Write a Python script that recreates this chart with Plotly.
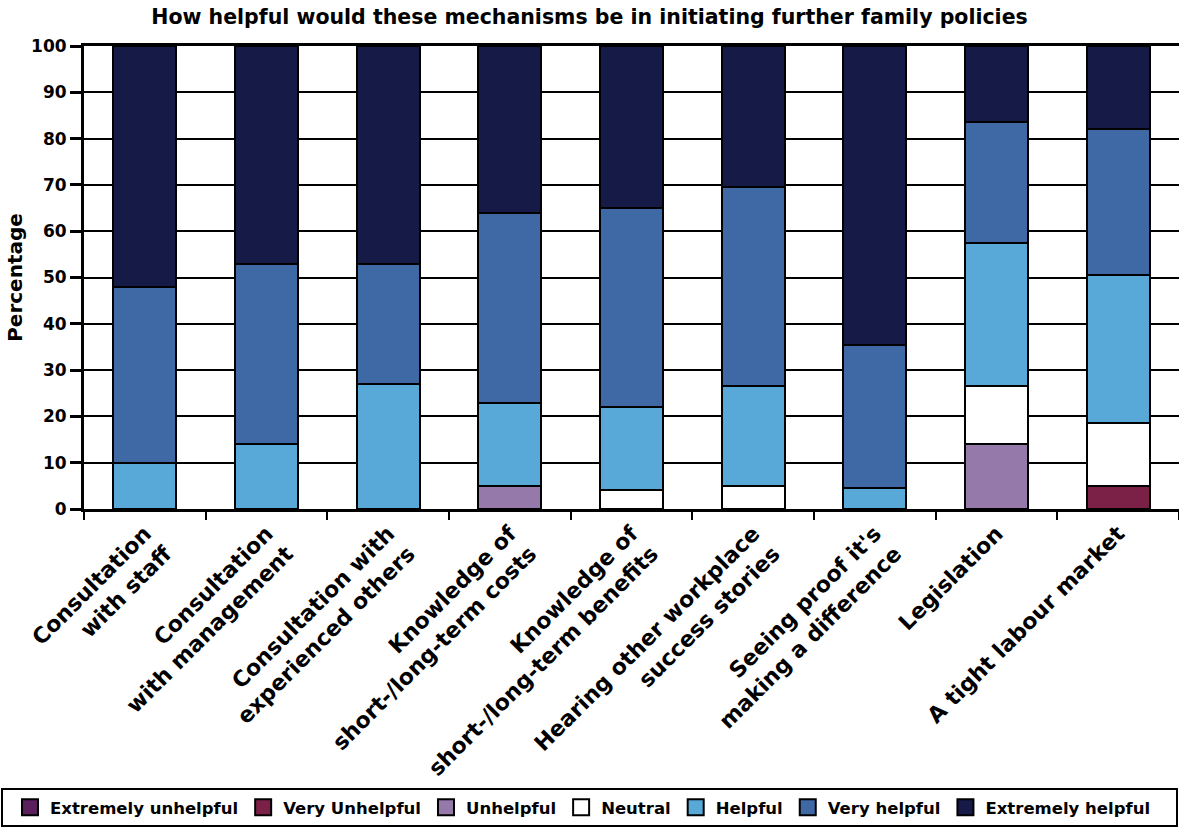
import plotly.graph_objects as go

# Mechanisms asked about (x categories)
categories = [
    "Consultation<br>with staff",
    "Consultation<br>with management",
    "Consultation with<br>experienced others",
    "Knowledge of<br>short-/long-term costs",
    "Knowledge of<br>short-/long-term benefits",
    "Hearing other workplace<br>success stories",
    "Seeing proof it's<br>making a difference",
    "Legislation",
    "A tight labour market",
]

# Percentage of respondents per rating, one list per response level
extremely_unhelpful = [0, 0, 0, 0, 0, 0, 0, 0, 0]
very_unhelpful = [0, 0, 0, 0, 0, 0, 0, 0, 5]
unhelpful = [0, 0, 0, 5, 0, 0, 0, 14, 0]
neutral = [0, 0, 0, 0, 4, 5, 0, 12.5, 13.5]
helpful = [10, 14, 27, 18, 18, 21.5, 4.5, 31, 32]
very_helpful = [38, 39, 26, 41, 43, 43, 31, 26, 31.5]
extremely_helpful = [52, 47, 47, 36, 35, 30.5, 64.5, 16.5, 18]

series_names = [
    "Extremely unhelpful", "Very Unhelpful", "Unhelpful", "Neutral",
    "Helpful", "Very helpful", "Extremely helpful",
]
series_values = [
    extremely_unhelpful, very_unhelpful, unhelpful, neutral,
    helpful, very_helpful, extremely_helpful,
]
series_colors = [
    "#5B1F5E", "#7B2046", "#9579AA", "#FFFFFF",
    "#58A9D8", "#3E69A4", "#161A47",
]

FONT = "DejaVu Sans"
BLACK = "#000000"

fig = go.Figure()
for name, vals, color in zip(series_names, series_values, series_colors):
    fig.add_trace(go.Bar(
        name=name,
        x=categories,
        y=vals,
        showlegend=False,
        marker=dict(color=color, line=dict(color=BLACK, width=2)),
    ))

# Larger square swatches for the legend entries
for name, color in zip(series_names, series_colors):
    fig.add_trace(go.Scatter(
        name=name,
        x=[None],
        y=[None],
        mode="markers",
        marker=dict(symbol="square", size=16, color=color,
                    line=dict(color=BLACK, width=2)),
    ))

# Plot area spans 84..1179 px horizontally and 46..509 px vertically
PX_W, PX_H, LEFT, BOTTOM = 1095, 463, 84, 509

fig.add_shape(
    type="rect", xref="paper", yref="paper",
    x0=(2 - LEFT) / PX_W, x1=(1177 - LEFT) / PX_W,
    y0=(BOTTOM - 826) / PX_H, y1=(BOTTOM - 789) / PX_H,
    line=dict(color=BLACK, width=2), fillcolor="rgba(0,0,0,0)",
)

fig.update_layout(
    width=1179,
    height=828,
    barmode="stack",
    bargap=0.48,
    plot_bgcolor="white",
    paper_bgcolor="white",
    margin=dict(l=84, r=0, t=46, b=319),
    font=dict(family=FONT, color=BLACK, weight="bold"),
    title=dict(
        text="How helpful would these mechanisms be in initiating further family policies",
        font=dict(family=FONT, size=20.5, weight="bold", color=BLACK),
        x=0.5, xref="container", xanchor="center",
        y=1 - 17 / 828, yref="container", yanchor="middle",
    ),
    xaxis=dict(
        type="category",
        tickangle=-45,
        tickson="boundaries",
        ticks="outside",
        ticklen=8,
        tickwidth=2,
        tickcolor=BLACK,
        showline=True,
        linecolor=BLACK,
        linewidth=3,
        mirror=True,
        showgrid=False,
        tickfont=dict(family=FONT, size=22, weight="bold", color=BLACK),
    ),
    yaxis=dict(
        range=[0, 100],
        dtick=10,
        ticks="outside",
        ticklen=11,
        tickwidth=3,
        tickcolor=BLACK,
        showline=True,
        linecolor=BLACK,
        linewidth=3,
        showgrid=True,
        gridcolor=BLACK,
        gridwidth=2,
        zeroline=False,
        tickfont=dict(family=FONT, size=17, weight="bold", color=BLACK),
        title=dict(
            text="Percentage",
            font=dict(family=FONT, size=20, weight="bold", color=BLACK),
            standoff=4,
        ),
    ),
    legend=dict(
        orientation="h",
        traceorder="normal",
        xref="paper", yref="paper",
        x=(10 - LEFT) / PX_W, xanchor="left",
        y=(BOTTOM - 807.5) / PX_H, yanchor="middle",
        borderwidth=0,
        bgcolor="rgba(0,0,0,0)",
        itemclick=False,
        itemdoubleclick=False,
        font=dict(family=FONT, size=16.5, weight="bold", color=BLACK),
    ),
)

fig.write_html("out.html")
